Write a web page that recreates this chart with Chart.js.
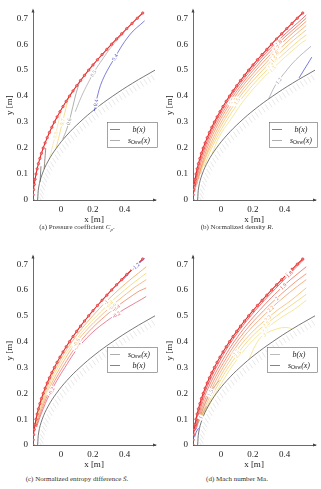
<!DOCTYPE html>
<html>
<head>
<meta charset="utf-8">
<script src="https://cdn.jsdelivr.net/npm/chart.js@4"></script>
<style>
  body { margin: 0; background: #fff; width: 321px; height: 489px; position: relative; overflow: hidden; font-family: "Liberation Serif", "DejaVu Serif", serif; }
  canvas { position: absolute; }
  .cap { position: absolute; width: 160px; text-align: center; font-size: 7px; color: #333; white-space: nowrap; }
</style>
</head>
<body>
<canvas id="pa" width="160" height="225" style="left:0;top:0"></canvas>
<canvas id="pb" width="160" height="225" style="left:160px;top:0"></canvas>
<canvas id="pc" width="160" height="224" style="left:0;top:246px"></canvas>
<canvas id="pd" width="160" height="224" style="left:160px;top:246px"></canvas>
<div class="cap" style="left:-3px;top:223px">(a) Pressure coefficient <i>C<sub style="font-size:5px">p</sub></i>.</div>
<div class="cap" style="left:157px;top:223px">(b) Normalized density <i>R</i>.</div>
<div class="cap" style="left:-3px;top:475px">(c) Normalized entropy difference <i>S&#771;</i>.</div>
<div class="cap" style="left:157px;top:475px">(d) Mach number Ma.</div>
<script>
// axis ticks
const xTicks = [0, 0.2, 0.4];
const yTicks = [0, 0.1, 0.2, 0.3, 0.4, 0.5, 0.6, 0.7];

// shock s_Osw(x) (with markers) and body b(x)
const shockY = [0, 0.02, 0.04, 0.06, 0.08, 0.10, 0.12, 0.14, 0.16, 0.18, 0.20, 0.22, 0.24, 0.26, 0.28, 0.30, 0.32, 0.34, 0.36,
                0.38, 0.40, 0.42, 0.44, 0.46, 0.48, 0.50, 0.52, 0.54, 0.56, 0.58, 0.60, 0.62, 0.64, 0.66, 0.68, 0.70, 0.72];
const shockX = [-0.175, -0.174, -0.171, -0.167, -0.162, -0.156, -0.149, -0.141, -0.132, -0.122, -0.111, -0.099, -0.086, -0.072,
                -0.057, -0.041, -0.024, -0.006, 0.013, 0.033, 0.054, 0.076, 0.099, 0.123, 0.148, 0.174, 0.201, 0.229, 0.258,
                0.288, 0.318, 0.349, 0.381, 0.413, 0.446, 0.479, 0.513];
const bodyY = [0, 0.05, 0.10, 0.15, 0.20, 0.25, 0.30, 0.35, 0.40, 0.45, 0.50];
const bodyX = [-0.146, -0.139, -0.117, -0.080, -0.028, 0.038, 0.119, 0.214, 0.325, 0.450, 0.590];

// (a) pressure coefficient contours
const cpLevels = ['0.4', '0.5', '0.6', '0.7', '0.8', '0.9', '1'];
const cpX = [
  [0.21, 0.225, 0.26, 0.33, 0.43, 0.525],
  [0.09, 0.13, 0.17, 0.21, 0.27, 0.33, 0.40],
  [0.012, 0.035, 0.055, 0.075, 0.095, 0.12],
  [-0.03, -0.01, 0.01, 0.03, 0.05],
  [-0.07, -0.055, -0.035, -0.015, 0.0],
  [-0.105, -0.10, -0.095],
  [-0.13, -0.128, -0.125]
];
const cpY = [
  [0.342, 0.39, 0.46, 0.54, 0.635, 0.69],
  [0.34, 0.40, 0.45, 0.495, 0.55, 0.60, 0.645],
  [0.235, 0.27, 0.31, 0.36, 0.41, 0.46],
  [0.20, 0.25, 0.30, 0.35, 0.40],
  [0.16, 0.20, 0.25, 0.30, 0.34],
  [0.12, 0.16, 0.20],
  [0.07, 0.10, 0.13]
];

// (b) normalized density contours
const rhoLevels = ['1.9', '1.8', '1.7', '1.6', '1.5', '1.4', '1.3', '1.2', '1.1'];
const rhoX = [
  [-0.165, -0.150, -0.103, -0.032, 0.065, 0.188, 0.336, 0.535],
  [-0.158, -0.144, -0.095, -0.022, 0.077, 0.203, 0.354, 0.535],
  [-0.150, -0.137, -0.086, -0.011, 0.090, 0.220, 0.375, 0.535],
  [-0.140, -0.125, -0.076, 0.002, 0.106, 0.240, 0.400, 0.535],
  [-0.128, -0.103, -0.068, 0.015, 0.122, 0.262, 0.428, 0.535],
  [-0.105, -0.058, 0.030, 0.142, 0.288, 0.462, 0.535],
  [-0.055, -0.005, 0.050, 0.165, 0.315, 0.495, 0.535],
  [0.30, 0.34, 0.40, 0.47, 0.565],
  [0.49, 0.52, 0.57]
];
const rhoY = [
  [0.03, 0.10, 0.20, 0.30, 0.40, 0.50, 0.60, 0.712],
  [0.05, 0.10, 0.20, 0.30, 0.40, 0.50, 0.60, 0.70],
  [0.06, 0.10, 0.20, 0.30, 0.40, 0.50, 0.60, 0.688],
  [0.08, 0.12, 0.20, 0.30, 0.40, 0.50, 0.60, 0.672],
  [0.10, 0.15, 0.20, 0.30, 0.40, 0.50, 0.60, 0.655],
  [0.13, 0.20, 0.30, 0.40, 0.50, 0.60, 0.636],
  [0.18, 0.25, 0.30, 0.40, 0.50, 0.60, 0.617],
  [0.39, 0.44, 0.49, 0.54, 0.592],
  [0.47, 0.50, 0.55]
];

// (c) normalized entropy difference contours
const entLevels = ['-0.2', '-0.4', '-0.6', '-0.8', '-1', '-1.2'];
const entX = [
  [-0.152, -0.124, -0.068, 0.025, 0.14, 0.31, 0.535],
  [-0.155, -0.130, -0.078, 0.01, 0.12, 0.28, 0.475, 0.535],
  [-0.158, -0.136, -0.087, -0.005, 0.10, 0.25, 0.44, 0.535],
  [-0.160, -0.142, -0.095, -0.018, 0.085, 0.225, 0.40, 0.535],
  [-0.162, -0.148, -0.103, -0.03, 0.07, 0.20, 0.36, 0.535],
  [0.39, 0.45, 0.525]
];
const entY = [
  [0.07, 0.12, 0.20, 0.30, 0.40, 0.49, 0.575],
  [0.07, 0.12, 0.20, 0.30, 0.40, 0.50, 0.59, 0.608],
  [0.07, 0.12, 0.20, 0.30, 0.40, 0.50, 0.60, 0.64],
  [0.07, 0.12, 0.20, 0.30, 0.40, 0.50, 0.60, 0.665],
  [0.07, 0.12, 0.20, 0.30, 0.40, 0.50, 0.60, 0.69],
  [0.64, 0.68, 0.722]
];

// (d) Mach number contours
const machLevels = ['1.8', '1.9', '2', '2.2', '2.3', '2.5', '2.7', '3', '1.5', '1', '0.5'];
const machX = [
  [-0.166, -0.130, -0.090, -0.012, 0.088, 0.215, 0.365, 0.52],
  [-0.160, -0.123, -0.080, 0.003, 0.106, 0.240, 0.400, 0.535],
  [-0.155, -0.115, -0.068, 0.018, 0.125, 0.268, 0.445, 0.535],
  [-0.148, -0.106, -0.056, 0.033, 0.145, 0.30, 0.43, 0.535],
  [-0.140, -0.097, -0.043, 0.050, 0.170, 0.33, 0.44, 0.535],
  [-0.130, -0.087, -0.030, 0.068, 0.195, 0.35, 0.45, 0.535],
  [-0.120, -0.077, -0.015, 0.088, 0.225, 0.37, 0.46, 0.535],
  [0.175, 0.22, 0.263, 0.33, 0.40, 0.45],
  [-0.125, -0.10, -0.06, -0.01],
  [-0.155, -0.14, -0.115, -0.09],
  [-0.165, -0.155, -0.14]
];
const machY = [
  [0.06, 0.15, 0.22, 0.32, 0.42, 0.52, 0.62, 0.718],
  [0.06, 0.15, 0.22, 0.32, 0.42, 0.52, 0.62, 0.69],
  [0.07, 0.15, 0.22, 0.32, 0.42, 0.52, 0.62, 0.663],
  [0.08, 0.15, 0.22, 0.32, 0.42, 0.52, 0.59, 0.64],
  [0.09, 0.15, 0.22, 0.32, 0.42, 0.51, 0.56, 0.608],
  [0.10, 0.15, 0.22, 0.32, 0.42, 0.50, 0.545, 0.583],
  [0.11, 0.15, 0.22, 0.32, 0.42, 0.49, 0.525, 0.56],
  [0.33, 0.39, 0.424, 0.445, 0.455, 0.45],
  [0.12, 0.16, 0.21, 0.25],
  [0.06, 0.09, 0.12, 0.15],
  [0.03, 0.05, 0.065]
];

// ---- styling ----
const FONT = '"Liberation Serif", "DejaVu Serif", serif';
const RED = '#e52a2a';
const cpColors = ['#4848cc', '#a0a0a0', '#8e8e8e', '#f0d060', '#f3e3a0', '#6e5e50', '#555555'];
const cpTags = [[0.08, 0.55], [0.45], [0.3], [0.5], [0.5], [], []];
const rhoColors = ['#e8393a', '#ec5a3c', '#f07a40', '#f39a4a', '#f5b552', '#f4cc5a', '#f0dd80', '#9c9cac', '#3a3ad0'];
const rhoTags = [[], [0.82], [0.8, 0.45], [0.78, 0.45], [0.76, 0.45], [0.72], [0.7], [0.3], []];
const entColors = ['#e04a6a', '#ec7050', '#f3a058', '#f2d060', '#f09848', '#3c3cc8'];
const entTags = [[0.22, 0.8], [0.5, 0.8], [0.5, 0.77], [0.75], [0.73], [0.6]];
const machColors = ['#e03030', '#e65040', '#ec7048', '#f09050', '#f2b058', '#f2c860', '#f0dc70', '#f0dc70', '#a090b0', '#8a6ab0', '#3a3ad0'];
const machTags = [[0.9], [0.85], [0.8], [0.75], [0.72, 0.45], [0.7, 0.45], [0.68], [0.5], [0.6], [0.5], []];

const pts = (xs, ys) => xs.map((x, i) => ({ x, y: ys[i] }));

// walk a pixel polyline, calling fn at every `step` px
function walk(points, step, fn) {
  let carry = 0;
  for (let k = 1; k < points.length; k++) {
    const a = points[k - 1], b = points[k];
    const len = Math.hypot(b.x - a.x, b.y - a.y);
    let d = carry;
    while (d <= len) {
      const u = len ? d / len : 0;
      fn(a.x + (b.x - a.x) * u, a.y + (b.y - a.y) * u);
      d += step;
    }
    carry = d - len;
  }
}

// hatching below the body contour
const bodyHatch = {
  id: 'bodyHatch',
  beforeDatasetsDraw(chart) {
    const ctx = chart.ctx, ca = chart.chartArea;
    chart.data.datasets.forEach((ds, i) => {
      if (!ds.hatch) return;
      const p = chart.getDatasetMeta(i).data.map(e => ({ x: e.x, y: e.y }));
      ctx.save();
      ctx.beginPath(); ctx.rect(ca.left, ca.top, ca.right - ca.left, ca.bottom - ca.top); ctx.clip();
      ctx.strokeStyle = '#d6d6d6'; ctx.lineWidth = 0.6;
      walk(p, 4.2, (x, y) => {
        ctx.beginPath(); ctx.moveTo(x + 1.5, y + 1.5); ctx.lineTo(x + 5, y + 7); ctx.stroke();
      });
      ctx.restore();
    });
  }
};

// inline contour level labels
const contourTags = {
  id: 'contourTags',
  afterDatasetsDraw(chart) {
    const ctx = chart.ctx;
    chart.data.datasets.forEach((ds, i) => {
      if (!ds.tagAt || !ds.tagAt.length) return;
      const p = chart.getDatasetMeta(i).data.map(e => ({ x: e.x, y: e.y }));
      const seg = [];
      let total = 0;
      for (let k = 1; k < p.length; k++) { const l = Math.hypot(p[k].x - p[k - 1].x, p[k].y - p[k - 1].y); seg.push(l); total += l; }
      ds.tagAt.forEach(f => {
        let d = f * total, k = 0;
        while (k < seg.length - 1 && d > seg[k]) { d -= seg[k]; k++; }
        const a = p[k], b = p[k + 1], u = seg[k] ? d / seg[k] : 0;
        let ang = Math.atan2(b.y - a.y, b.x - a.x);
        if (ang > Math.PI / 2) ang -= Math.PI;
        if (ang < -Math.PI / 2) ang += Math.PI;
        ctx.save();
        ctx.translate(a.x + (b.x - a.x) * u, a.y + (b.y - a.y) * u);
        ctx.rotate(ang);
        ctx.font = '5.5px ' + FONT;
        const w = ctx.measureText(ds.level).width;
        ctx.fillStyle = '#fff';
        ctx.fillRect(-w / 2 - 1, -3, w + 2, 6);
        ctx.fillStyle = ds.borderColor;
        ctx.textAlign = 'center'; ctx.textBaseline = 'middle';
        ctx.fillText(ds.level, 0, 0.3);
        ctx.restore();
      });
    });
  }
};

// arrow heads on the axes
const axisArrows = {
  id: 'axisArrows',
  afterDraw(chart) {
    const ctx = chart.ctx, ca = chart.chartArea;
    ctx.save();
    ctx.fillStyle = '#444';
    ctx.beginPath(); ctx.moveTo(ca.right + 2, ca.bottom); ctx.lineTo(ca.right - 2, ca.bottom - 1.5); ctx.lineTo(ca.right - 2, ca.bottom + 1.5); ctx.fill();
    ctx.beginPath(); ctx.moveTo(ca.left, ca.top - 2); ctx.lineTo(ca.left - 1.5, ca.top + 2); ctx.lineTo(ca.left + 1.5, ca.top + 2); ctx.fill();
    ctx.restore();
  }
};

// boxed legend with subscript text
const keyBox = {
  id: 'keyBox',
  afterDraw(chart, args, o) {
    if (!o.items) return;
    const ctx = chart.ctx;
    ctx.save();
    ctx.fillStyle = '#fff';
    ctx.fillRect(o.x, o.y, o.w, o.h);
    ctx.strokeStyle = '#666'; ctx.lineWidth = 0.6;
    ctx.strokeRect(o.x + 0.5, o.y + 0.5, o.w, o.h);
    o.items.forEach((it, i) => {
      const cy = o.y + 7.5 + i * 11;
      ctx.strokeStyle = it.color; ctx.lineWidth = 0.8;
      ctx.beginPath(); ctx.moveTo(o.x + 3, cy); ctx.lineTo(o.x + 13, cy); ctx.stroke();
      ctx.fillStyle = '#222'; ctx.textBaseline = 'middle';
      const parts = it.key === 's'
        ? [['s', 'italic 8px ', 0], ['Osw', '5.5px ', 2], ['(x)', 'italic 8px ', 0]]
        : [['b(x)', 'italic 8px ', 0]];
      let w = 0;
      parts.forEach(pt => { ctx.font = pt[1] + FONT; w += ctx.measureText(pt[0]).width; });
      let x = o.x + 32 - w / 2;
      parts.forEach(pt => { ctx.font = pt[1] + FONT; ctx.fillText(pt[0], x, cy + pt[2]); x += ctx.measureText(pt[0]).width; });
    });
    ctx.restore();
  }
};

function makePanel(id, levels, xs, ys, colors, tags, legend) {
  const datasets = [
    { data: pts(shockX, shockY), showLine: true, borderColor: RED, borderWidth: 1.1, tension: 0,
      pointRadius: 1.2, pointBorderColor: RED, pointBackgroundColor: '#f08080', pointBorderWidth: 0.6 },
    { data: pts(bodyX, bodyY), showLine: true, borderColor: '#555', borderWidth: 0.8, tension: 0.4, pointRadius: 0, hatch: true }
  ];
  levels.forEach((lv, i) => datasets.push({
    data: pts(xs[i], ys[i]), showLine: true, borderColor: colors[i], borderWidth: 0.7, tension: 0.4, pointRadius: 0,
    level: lv, tagAt: tags[i]
  }));
  const tickFont = { family: FONT, size: 9 };
  new Chart(document.getElementById(id), {
    type: 'scatter',
    data: { datasets },
    options: {
      responsive: false,
      animation: false,
      events: [],
      layout: { padding: { top: 1, right: 5, left: 0, bottom: 0 } },
      plugins: { legend: { display: false }, tooltip: { enabled: false }, keyBox: legend },
      scales: {
        x: {
          type: 'linear', min: -0.175, max: 0.59,
          grid: { display: false, drawTicks: false },
          border: { color: '#444', width: 0.8 },
          ticks: { font: tickFont, color: '#222', padding: 4, maxRotation: 0, callback: v => String(+v.toFixed(2)) },
          afterBuildTicks: s => { s.ticks = xTicks.map(v => ({ value: v })); },
          afterFit: s => { s.height = 25; },
          title: { display: true, text: 'x [m]', font: tickFont, color: '#222', padding: { top: 0, bottom: 0 } }
        },
        y: {
          type: 'linear', min: 0, max: 0.73,
          grid: { display: false, drawTicks: false },
          border: { color: '#444', width: 0.8 },
          ticks: { font: tickFont, color: '#222', padding: 5, callback: v => String(+v.toFixed(2)) },
          afterBuildTicks: s => { s.ticks = yTicks.map(v => ({ value: v })); },
          afterFit: s => { s.width = 33; },
          title: { display: true, text: 'y [m]', font: tickFont, color: '#222' }
        }
      }
    },
    plugins: [bodyHatch, contourTags, axisArrows, keyBox]
  });
}

const bKey = { key: 'b', color: '#666' };
const sKey = { key: 's', color: '#999' };
makePanel('pa', cpLevels, cpX, cpY, cpColors, cpTags, { x: 107, y: 122, w: 50, h: 25, items: [bKey, sKey] });
makePanel('pb', rhoLevels, rhoX, rhoY, rhoColors, rhoTags, { x: 109, y: 122, w: 48, h: 25, items: [bKey, sKey] });
makePanel('pc', entLevels, entX, entY, entColors, entTags, { x: 107, y: 101, w: 50, h: 25, items: [sKey, bKey] });
makePanel('pd', machLevels, machX, machY, machColors, machTags, { x: 107, y: 101, w: 50, h: 25, items: [{ key: 'b', color: '#aaa' }, { key: 's', color: '#666' }] });
</script>
</body>
</html>
